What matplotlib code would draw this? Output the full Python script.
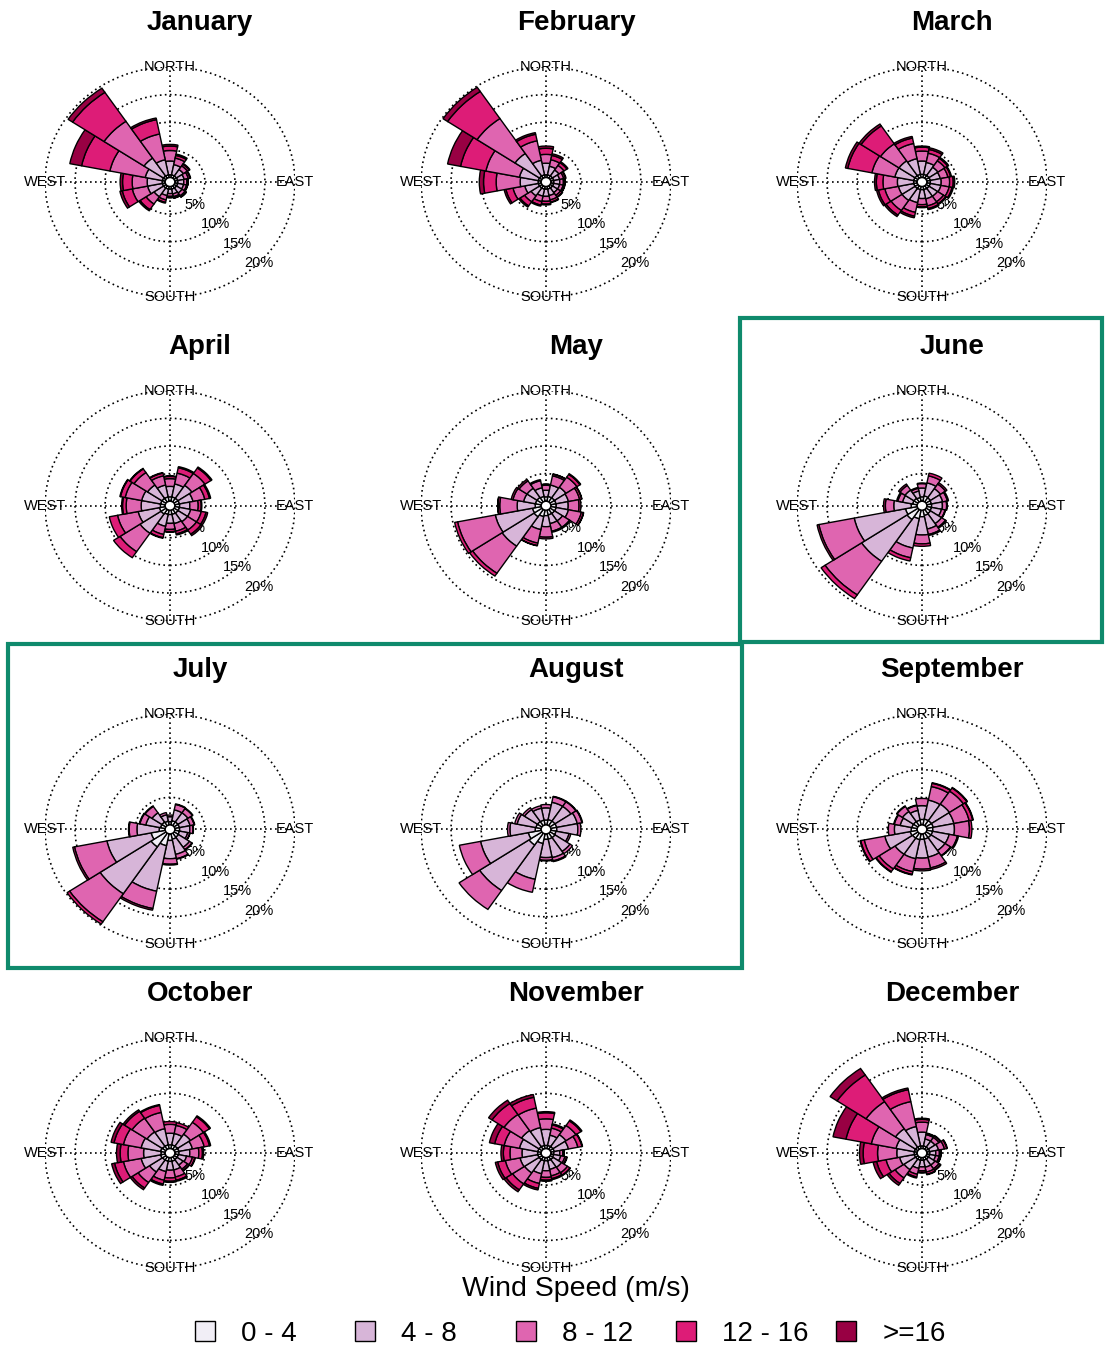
import numpy as np
import matplotlib
matplotlib.use('Agg')
import matplotlib.pyplot as plt
from matplotlib.patches import Wedge, Circle, Rectangle

plt.rcParams['font.family'] = ['Liberation Sans', 'DejaVu Sans']

# ---------------- data ----------------
month_names = ["January", "February", "March", "April", "May", "June",
               "July", "August", "September", "October", "November", "December"]
# compass directions (deg), order: N, NNE, NE, ENE, E, ESE, SE, SSE, S, SSW, SW, WSW, W, WNW, NW, NNW
directions = [0, 22.5, 45, 67.5, 90, 112.5, 135, 157.5, 180, 202.5, 225, 247.5, 270, 292.5, 315, 337.5]
speed_bins = ["0 - 4", "4 - 8", "8 - 12", "12 - 16", ">=16"]
bin_colors = ["#f1eef6", "#d7b5d8", "#df65b0", "#dd1c77", "#980043"]
grid_pct = [5, 10, 15, 20]
compass_labels = ["NORTH", "EAST", "SOUTH", "WEST"]

# frequency (%) per direction (rows) and speed bin (columns)
jan = [[0.5, 2.5, 1.9, 0.8, 0.3], [0.5, 1.9, 1.2, 0.5, 0.25], [0.5, 1.4, 0.8, 0.35, 0.15],
       [0.5, 1.1, 0.7, 0.3, 0.1], [0.5, 1.0, 0.5, 0.2, 0.05], [0.5, 1.0, 0.5, 0.15, 0.05],
       [0.5, 1.1, 0.6, 0.25, 0.05], [0.5, 0.9, 0.5, 0.25, 0.05], [0.5, 0.8, 0.5, 0.2, 0.05],
       [0.5, 1.2, 0.8, 0.45, 0.15], [0.5, 1.9, 1.6, 1.2, 0.25], [0.5, 2.5, 2.6, 1.7, 0.4],
       [0.5, 2.5, 2.5, 1.6, 0.4], [0.5, 2.9, 6.0, 4.8, 2.0], [0.5, 3.9, 8.0, 6.3, 0.9],
       [0.5, 2.8, 4.75, 2.65, 0.3]]
feb = [[0.5, 2.1, 1.6, 1.1, 0.4], [0.5, 1.6, 1.2, 0.8, 0.3], [0.5, 1.3, 1.0, 0.6, 0.2],
       [0.5, 1.0, 0.7, 0.3, 0.1], [0.5, 1.0, 0.6, 0.25, 0.05], [0.5, 1.0, 0.6, 0.25, 0.05],
       [0.5, 1.0, 0.6, 0.35, 0.1], [0.5, 1.2, 0.8, 0.4, 0.1], [0.5, 1.3, 0.9, 0.5, 0.15],
       [0.5, 1.3, 1.0, 0.65, 0.2], [0.5, 1.7, 1.3, 0.9, 0.25], [0.5, 2.3, 2.0, 1.2, 0.3],
       [0.5, 3.0, 4.0, 2.1, 0.7], [0.5, 3.2, 5.7, 4.3, 2.2], [0.5, 4.9, 7.6, 5.9, 0.9],
       [0.5, 2.7, 3.6, 1.2, 0.3]]
mar = [[0.6, 2.4, 1.8, 0.7, 0.2], [0.6, 2.2, 1.7, 0.7, 0.3], [0.6, 1.8, 1.4, 0.55, 0.2],
       [0.6, 1.7, 1.3, 0.45, 0.15], [0.6, 1.8, 1.4, 0.6, 0.25], [0.6, 1.8, 1.4, 0.5, 0.2],
       [0.6, 1.7, 1.2, 0.45, 0.15], [0.6, 1.7, 1.3, 0.5, 0.2], [0.6, 1.6, 1.1, 0.4, 0.15],
       [0.6, 2.4, 1.8, 0.7, 0.3], [0.6, 2.6, 2.2, 1.0, 0.3], [0.6, 2.6, 2.3, 1.1, 0.3],
       [0.6, 2.7, 2.4, 1.1, 0.3], [0.6, 3.2, 3.9, 4.1, 0.4], [0.6, 3.2, 3.7, 3.9, 0.4],
       [0.6, 2.9, 2.8, 1.0, 0.3]]
apr = [[0.8, 1.9, 1.4, 0.4, 0.1], [0.8, 2.4, 2.0, 1.0, 0.2], [0.8, 2.8, 2.6, 1.2, 0.2],
       [0.8, 2.3, 2.0, 0.8, 0.2], [0.8, 1.7, 1.4, 0.5, 0.1], [0.8, 1.9, 1.8, 0.8, 0.3],
       [0.8, 1.9, 1.8, 0.9, 0.3], [0.8, 1.7, 1.4, 0.5, 0.2], [0.8, 1.6, 1.1, 0.4, 0.1],
       [0.8, 2.2, 1.5, 0.6, 0.1], [1.0, 4.2, 4.0, 1.3, 0.0], [1.0, 3.6, 3.5, 1.4, 0.0],
       [0.8, 3.2, 2.5, 0.6, 0.15], [0.8, 3.2, 2.8, 0.8, 0.1], [0.8, 2.9, 2.7, 0.8, 0.1],
       [0.8, 2.2, 1.7, 0.5, 0.1]]
may = [[0.8, 1.2, 0.9, 0.15, 0.05], [0.9, 2.1, 1.7, 0.3, 0.05], [0.9, 2.3, 2.2, 0.6, 0.15],
       [0.9, 2.1, 1.9, 0.35, 0.05], [0.9, 2.0, 1.8, 0.3, 0.0], [0.9, 2.1, 2.2, 0.35, 0.05],
       [0.9, 1.6, 1.4, 0.2, 0.0], [0.9, 1.6, 1.4, 0.2, 0.0], [1.0, 2.0, 1.9, 0.3, 0.0],
       [1.2, 2.4, 2.5, 0.45, 0.05], [1.6, 6.4, 5.9, 0.6, 0.0], [1.5, 6.3, 6.4, 0.5, 0.0],
       [1.0, 3.0, 2.9, 0.3, 0.05], [1.0, 2.0, 1.8, 0.3, 0.0], [1.0, 2.0, 1.6, 0.3, 0.0],
       [0.9, 1.6, 1.3, 0.2, 0.0]]
jun = [[0.8, 1.6, 0.8, 0.1, 0.0], [1.0, 2.4, 1.3, 0.5, 0.0], [0.9, 2.0, 1.0, 0.3, 0.0],
       [0.8, 1.9, 0.8, 0.2, 0.0], [0.8, 1.8, 0.7, 0.1, 0.0], [0.8, 1.7, 0.6, 0.1, 0.0],
       [0.9, 2.2, 0.8, 0.2, 0.0], [1.0, 2.5, 1.0, 0.2, 0.0], [1.2, 3.3, 1.6, 0.45, 0.0],
       [1.6, 5.4, 1.8, 0.6, 0.0], [2.2, 9.1, 7.3, 0.8, 0.0], [2.0, 8.7, 6.0, 0.3, 0.0],
       [1.0, 2.9, 1.4, 0.3, 0.0], [0.8, 1.7, 0.8, 0.2, 0.0], [0.8, 1.8, 1.0, 0.3, 0.0],
       [0.7, 1.2, 0.5, 0.15, 0.0]]
jul = [[0.6, 0.9, 0.3, 0.0, 0.0], [0.8, 2.0, 1.0, 0.1, 0.0], [0.8, 2.0, 0.9, 0.1, 0.0],
       [0.8, 1.8, 0.7, 0.1, 0.0], [0.8, 1.7, 0.55, 0.05, 0.0], [0.8, 1.4, 0.35, 0.05, 0.0],
       [0.9, 2.2, 0.5, 0.1, 0.0], [1.0, 2.8, 0.8, 0.1, 0.0], [1.2, 3.3, 1.0, 0.15, 0.0],
       [2.2, 8.4, 3.2, 0.3, 0.0], [3.0, 10.2, 6.1, 0.5, 0.0], [2.4, 7.5, 5.5, 0.3, 0.0],
       [1.0, 3.7, 1.3, 0.1, 0.0], [0.8, 2.5, 1.0, 0.1, 0.0], [0.8, 2.0, 1.4, 0.1, 0.0],
       [0.7, 1.2, 0.4, 0.0, 0.0]]
aug = [[0.9, 2.2, 0.6, 0.0, 0.0], [1.0, 3.2, 1.0, 0.1, 0.0], [1.0, 3.2, 1.0, 0.1, 0.0],
       [1.0, 3.5, 0.8, 0.1, 0.0], [1.0, 3.5, 0.5, 0.0, 0.0], [0.9, 2.2, 0.3, 0.0, 0.0],
       [1.0, 3.0, 0.5, 0.0, 0.0], [1.0, 3.4, 0.6, 0.15, 0.0], [1.0, 3.3, 0.5, 0.1, 0.0],
       [1.8, 6.6, 2.4, 0.0, 0.0], [2.6, 9.9, 4.1, 0.0, 0.0], [2.2, 8.1, 3.6, 0.0, 0.0],
       [1.0, 4.2, 0.4, 0.0, 0.0], [0.9, 3.2, 0.4, 0.0, 0.0], [0.9, 2.6, 0.4, 0.0, 0.0],
       [0.9, 2.2, 0.45, 0.0, 0.0]]
sep = [[1.0, 2.5, 1.3, 0.0, 0.0], [1.1, 3.5, 2.5, 0.6, 0.1], [1.1, 3.6, 2.8, 0.7, 0.1],
       [1.1, 3.5, 2.6, 0.6, 0.1], [1.0, 3.6, 2.5, 0.4, 0.0], [1.0, 2.8, 1.4, 0.2, 0.0],
       [1.0, 2.8, 1.1, 0.1, 0.0], [1.0, 3.3, 2.0, 0.3, 0.0], [1.0, 3.4, 2.0, 0.3, 0.0],
       [1.1, 3.5, 2.4, 0.5, 0.1], [1.1, 3.5, 3.2, 0.6, 0.1], [1.2, 4.3, 3.5, 0.6, 0.1],
       [1.0, 2.8, 1.0, 0.0, 0.0], [0.9, 2.0, 1.0, 0.1, 0.0], [0.9, 2.2, 1.1, 0.1, 0.0],
       [0.9, 1.8, 0.9, 0.1, 0.0]]
oct_ = [[0.7, 2.1, 1.6, 0.5, 0.0], [0.7, 2.1, 1.5, 0.5, 0.0], [0.7, 2.6, 2.6, 1.2, 0.2],
        [0.7, 2.3, 2.0, 0.9, 0.2], [0.7, 1.8, 1.5, 0.6, 0.2], [0.6, 1.4, 1.0, 0.4, 0.1],
        [0.6, 1.2, 0.9, 0.3, 0.1], [0.7, 1.6, 1.3, 0.6, 0.2], [0.7, 1.6, 1.4, 0.6, 0.2],
        [0.7, 1.9, 1.6, 0.7, 0.25], [0.7, 2.6, 2.3, 1.2, 0.35], [0.8, 3.3, 3.0, 1.5, 0.5],
        [0.7, 2.9, 2.6, 1.3, 0.6], [0.8, 3.3, 3.0, 1.6, 0.5], [0.7, 3.1, 3.0, 1.5, 0.3],
        [0.7, 3.0, 3.0, 1.3, 0.15]]
nov = [[0.6, 2.9, 1.9, 1.1, 0.2], [0.6, 1.9, 1.3, 0.6, 0.2], [0.6, 2.6, 2.0, 1.0, 0.2],
       [0.6, 2.4, 1.6, 0.7, 0.1], [0.5, 1.0, 0.5, 0.2, 0.05], [0.5, 1.2, 0.7, 0.3, 0.1],
       [0.6, 1.7, 1.2, 0.5, 0.1], [0.6, 1.6, 1.2, 0.5, 0.2], [0.6, 1.8, 1.2, 0.5, 0.2],
       [0.6, 2.4, 1.8, 0.9, 0.3], [0.6, 2.9, 2.4, 1.3, 0.4], [0.6, 3.0, 2.5, 1.3, 0.4],
       [0.6, 2.6, 2.0, 1.1, 0.4], [0.6, 3.1, 2.6, 1.6, 0.9], [0.6, 3.5, 3.5, 2.4, 0.7],
       [0.6, 3.3, 3.6, 2.0, 0.5]]
dec = [[0.5, 2.5, 1.8, 0.5, 0.2], [0.5, 1.3, 0.8, 0.2, 0.1], [0.5, 1.3, 0.8, 0.3, 0.1],
       [0.5, 1.5, 1.0, 0.4, 0.1], [0.5, 1.0, 0.6, 0.25, 0.05], [0.5, 1.0, 0.6, 0.25, 0.05],
       [0.5, 1.3, 0.8, 0.3, 0.1], [0.5, 1.3, 0.9, 0.4, 0.1], [0.5, 1.2, 0.7, 0.3, 0.1],
       [0.5, 1.5, 1.1, 0.5, 0.2], [0.5, 2.3, 1.8, 1.2, 0.4], [0.5, 2.5, 2.3, 1.6, 0.6],
       [0.5, 2.9, 3.2, 2.4, 0.6], [0.5, 3.1, 4.2, 4.3, 2.2], [0.5, 4.0, 5.9, 5.8, 1.4],
       [0.5, 3.6, 4.6, 2.2, 0.3]]
month_data = [jan, feb, mar, apr, may, jun, jul, aug, sep, oct_, nov, dec]

# ---------------- figure ----------------
W, H = 1106, 1347
fig = plt.figure(figsize=(W / 100, H / 100), dpi=100)
fig.patch.set_facecolor('white')

OFF = 0.8                 # central hole (in % units)
RMAX = grid_pct[-1] + OFF
SECTOR = 22.5
DOT = (0, (1, 2.0))

for i, (name, data) in enumerate(zip(month_names, month_data)):
    row, col = divmod(i, 3)
    cx = 170 + 376 * col
    cy = 182 + 323.7 * row
    rx, ry = 125, 115
    ax = fig.add_axes([(cx - rx) / W, 1 - (cy + ry) / H, 2 * rx / W, 2 * ry / H])
    ax.set_xlim(-RMAX, RMAX)
    ax.set_ylim(-RMAX, RMAX)
    ax.axis('off')

    # grid
    for g in grid_pct:
        ax.add_patch(Circle((0, 0), g + OFF, fill=False, ec='black', lw=1.2,
                            ls=DOT, zorder=1))
        a = np.deg2rad(135)
        ax.text((g + OFF) * np.sin(a), (g + OFF) * np.cos(a), f"{g}%",
                ha='center', va='center', fontsize=10.5, zorder=1.5)
    ax.plot([-RMAX, RMAX], [0, 0], color='black', lw=1.2, ls=DOT, zorder=1)
    ax.plot([0, 0], [-RMAX, RMAX], color='black', lw=1.2, ls=DOT, zorder=1)

    # bars
    arr = np.array(data)
    cum = np.cumsum(arr, axis=1)
    for d_idx, d in enumerate(directions):
        t1 = 90 - d - SECTOR / 2
        t2 = 90 - d + SECTOR / 2
        lo = 0.0
        for b in range(len(speed_bins)):
            hi = cum[d_idx, b]
            if hi - lo > 1e-6:
                ax.add_patch(Wedge((0, 0), hi + OFF, t1, t2, width=hi - lo,
                                   fc=bin_colors[b], ec='black', lw=1.0, zorder=2))
            lo = hi
    ax.add_patch(Circle((0, 0), OFF, fc='white', ec='black', lw=1.0, zorder=3))

    # compass labels
    for lab, ang in zip(compass_labels, [0, 90, 180, 270]):
        a = np.deg2rad(ang)
        ax.text(RMAX * np.sin(a), RMAX * np.cos(a), lab, ha='center', va='center',
                fontsize=10.5, zorder=4, clip_on=False)

    fig.text((cx + 30) / W, 1 - (30 + 323.7 * row) / H, name, ha='center',
             va='baseline', fontsize=20, fontweight='bold')

# highlight boxes
green = '#0f8a6c'
for (x0, y0, x1, y1) in [(740, 318, 1102, 642), (8, 644, 742, 968)]:
    fig.add_artist(Rectangle((x0 / W, 1 - y1 / H), (x1 - x0) / W, (y1 - y0) / H,
                             transform=fig.transFigure, fill=False, ec=green, lw=3))

# legend
fig.text(576 / W, 1 - 1296 / H, "Wind Speed (m/s)", ha='center', va='baseline',
         fontsize=20.5)
for k, (lab, colr) in enumerate(zip(speed_bins, bin_colors)):
    bx = 195 + 160.3 * k
    fig.add_artist(Rectangle((bx / W, 1 - 1341 / H), 20 / W, 20 / H,
                             transform=fig.transFigure, fc=colr, ec='black', lw=1))
    fig.text((bx + 46) / W, 1 - 1341 / H, lab, ha='left', va='baseline', fontsize=20)

fig.savefig('out.png', dpi=100)
